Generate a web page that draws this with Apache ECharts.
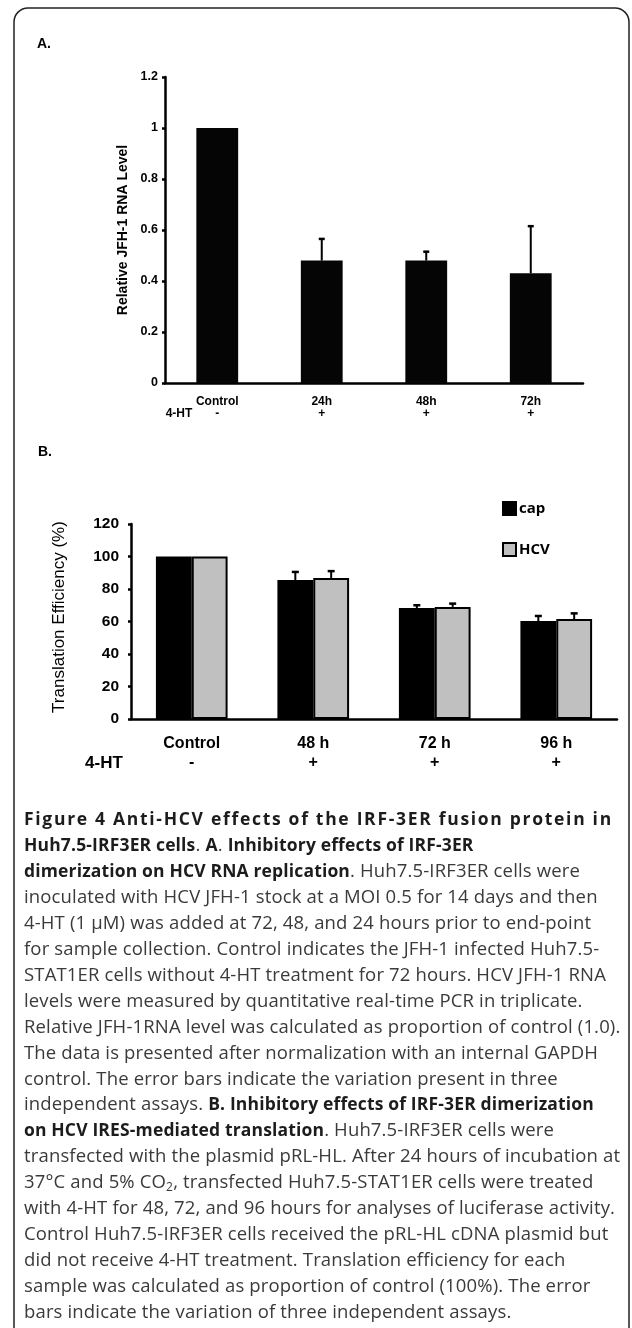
<!DOCTYPE html>
<html>
<head>
<meta charset="utf-8">
<script src="https://cdn.jsdelivr.net/npm/echarts@6.0.0/dist/echarts.min.js"></script>
<style>
html, body { margin: 0; padding: 0; background: #fff; }
#chart { position: absolute; left: 0; top: 0; width: 632px; height: 1328px; }
#caption { position: absolute; left: 0; top: 0; width: 632px; font-family: "Open Sans", sans-serif; font-size: 18.5px; letter-spacing: 0.15px; color: #3a3a3a; }
#caption div { position: absolute; left: 24px; white-space: nowrap; height: 26px; line-height: 26px; }
#caption b { color: #1c1c1c; font-weight: 700; font-size: 17.5px; }
#caption div.title b { letter-spacing: 1.7px; }
#caption sub { font-size: 12px; vertical-align: -3px; line-height: 0; }
</style>
</head>
<body>
<div id="chart"></div>
<div id="caption"></div>
<script>
// panel A - relative JFH-1 RNA level
const catsA = ['Control', '24h', '48h', '72h'];
const signsA = ['-', '+', '+', '+'];
const rnaLevel = [1.0, 0.48, 0.48, 0.43];
const rnaErr = [0, 0.085, 0.035, 0.185];

// panel B - translation efficiency (%)
const catsB = ['Control', '48 h', '72 h', '96 h'];
const signsB = ['-', '+', '+', '+'];
const capEff = [100, 85.5, 68.3, 60.3];
const capErr = [0, 5, 1.7, 3.1];
const hcvEff = [100, 86.8, 69, 61.5];
const hcvErr = [0, 4.2, 2, 3.5];

const captionLines = [
	'<b>Figure 4 Anti-HCV effects of the IRF-3ER fusion protein in</b>',
	'<b>Huh7.5-IRF3ER cells</b>. <b>A</b>. <b>Inhibitory effects of IRF-3ER</b>',
	'<b>dimerization on HCV RNA replication</b>. Huh7.5-IRF3ER cells were',
	'inoculated with HCV JFH-1 stock at a MOI 0.5 for 14 days and then',
	'4-HT (1 &mu;M) was added at 72, 48, and 24 hours prior to end-point',
	'for sample collection. Control indicates the JFH-1 infected Huh7.5-',
	'STAT1ER cells without 4-HT treatment for 72 hours. HCV JFH-1 RNA',
	'levels were measured by quantitative real-time PCR in triplicate.',
	'Relative JFH-1RNA level was calculated as proportion of control (1.0).',
	'The data is presented after normalization with an internal GAPDH',
	'control. The error bars indicate the variation present in three',
	'independent assays. <b>B. Inhibitory effects of IRF-3ER dimerization</b>',
	'<b>on HCV IRES-mediated translation</b>. Huh7.5-IRF3ER cells were',
	'transfected with the plasmid pRL-HL. After 24 hours of incubation at',
	'37&deg;C and 5% CO<sub>2</sub>, transfected Huh7.5-STAT1ER cells were treated',
	'with 4-HT for 48, 72, and 96 hours for analyses of luciferase activity.',
	'Control Huh7.5-IRF3ER cells received the pRL-HL cDNA plasmid but',
	'did not receive 4-HT treatment. Translation efficiency for each',
	'sample was calculated as proportion of control (100%). The error',
	'bars indicate the variation of three independent assays.'
];

const cap = document.getElementById('caption');
captionLines.forEach(function (line, i) {
	const d = document.createElement('div');
	d.style.top = (805 + i * 25.95) + 'px';
	if (i === 0) d.className = 'title';
	d.innerHTML = line;
	cap.appendChild(d);
});

const FONT = '"Liberation Sans", Arial, sans-serif';

// upper error bar drawn on the bar centre (offset = share of band width)
const errRender = function (offset, capHalf) {
	return function (params, api) {
		const v = api.value(1), e = api.value(2);
		if (!e) return;
		const base = api.coord([api.value(0), v]);
		const top = api.coord([api.value(0), v + e]);
		const cx = base[0] + offset * api.size([1, 0])[0];
		return {
			type: 'group',
			children: [{
				type: 'line',
				shape: { x1: cx, y1: base[1], x2: cx, y2: top[1] },
				style: { stroke: '#000', lineWidth: 2 }
			}, {
				type: 'line',
				shape: { x1: cx - capHalf, y1: top[1], x2: cx + capHalf, y2: top[1] },
				style: { stroke: '#000', lineWidth: 2.5 }
			}]
		};
	};
};

const axisLineStyle = { color: '#000', width: 2.5 };

const chart = echarts.init(document.getElementById('chart'), null, { renderer: 'canvas' });
chart.setOption({
	animation: false,
	backgroundColor: '#fff',
	textStyle: { fontFamily: FONT },
	grid: [
		{ left: 165, top: 77, width: 418, height: 306 },
		{ left: 131, top: 524, width: 486, height: 195 }
	],
	xAxis: [{
		gridIndex: 0,
		type: 'category',
		data: catsA,
		axisLine: { lineStyle: axisLineStyle },
		axisTick: { length: 4, lineStyle: axisLineStyle },
		axisLabel: {
			margin: 13,
			color: '#000',
			fontWeight: 'bold',
			fontSize: 12,
			lineHeight: 12,
			formatter: function (v, i) { return v + '\n' + signsA[i]; }
		}
	}, {
		gridIndex: 1,
		type: 'category',
		data: catsB,
		axisLine: { lineStyle: axisLineStyle },
		axisTick: { length: 4, lineStyle: axisLineStyle },
		axisLabel: {
			margin: 15,
			color: '#000',
			fontWeight: 'bold',
			fontSize: 16,
			lineHeight: 19,
			formatter: function (v, i) { return v + '\n' + signsB[i]; }
		}
	}],
	yAxis: [{
		gridIndex: 0,
		type: 'value',
		min: 0,
		max: 1.2,
		interval: 0.2,
		axisLine: { show: true, lineStyle: axisLineStyle },
		axisTick: { show: true, length: 3, lineStyle: axisLineStyle },
		splitLine: { show: false },
		axisLabel: { margin: 7, color: '#000', fontWeight: 'bold', fontSize: 12.5 }
	}, {
		gridIndex: 1,
		type: 'value',
		min: 0,
		max: 120,
		interval: 20,
		axisLine: { show: true, lineStyle: axisLineStyle },
		axisTick: { show: true, length: 3, lineStyle: axisLineStyle },
		splitLine: { show: false },
		axisLabel: { margin: 12, color: '#000', fontWeight: 'bold', fontSize: 15.5 }
	}],
	legend: {
		orient: 'vertical',
		left: 497,
		top: 496,
		itemWidth: 13,
		itemHeight: 13,
		itemGap: 26,
		icon: 'rect',
		data: ['cap', 'HCV'],
		textStyle: { fontFamily: '"Open Sans", sans-serif', fontWeight: 'bold', fontSize: 15, color: '#000', padding: [0, 0, 0, -2] }
	},
	series: [{
		name: 'rna',
		type: 'bar',
		xAxisIndex: 0,
		yAxisIndex: 0,
		barWidth: '40%',
		itemStyle: { color: '#050505' },
		data: rnaLevel
	}, {
		name: 'rnaErr',
		type: 'custom',
		xAxisIndex: 0,
		yAxisIndex: 0,
		z: 5,
		encode: { x: 0, y: 1 },
		renderItem: errRender(0, 3),
		data: catsA.map(function (c, i) { return [i, rnaLevel[i], rnaErr[i]]; })
	}, {
		name: 'cap',
		type: 'bar',
		xAxisIndex: 1,
		yAxisIndex: 1,
		barGap: '0%',
		barCategoryGap: '41%',
		itemStyle: { color: '#000', borderColor: '#000', borderWidth: 2 },
		data: capEff
	}, {
		name: 'HCV',
		type: 'bar',
		xAxisIndex: 1,
		yAxisIndex: 1,
		barGap: '0%',
		barCategoryGap: '41%',
		itemStyle: { color: '#c0c0c0', borderColor: '#000', borderWidth: 2 },
		data: hcvEff
	}, {
		name: 'capErr',
		type: 'custom',
		xAxisIndex: 1,
		yAxisIndex: 1,
		z: 5,
		encode: { x: 0, y: 1 },
		renderItem: errRender(-0.1475, 3.5),
		data: catsB.map(function (c, i) { return [i, capEff[i], capErr[i]]; })
	}, {
		name: 'hcvErr',
		type: 'custom',
		xAxisIndex: 1,
		yAxisIndex: 1,
		z: 5,
		encode: { x: 0, y: 1 },
		renderItem: errRender(0.1475, 3.5),
		data: catsB.map(function (c, i) { return [i, hcvEff[i], hcvErr[i]]; })
	}],
	graphic: [{
		type: 'rect',
		shape: { x: 14, y: 8, width: 615, height: 1400, r: [14, 14, 0, 0] },
		style: { fill: 'none', stroke: '#222', lineWidth: 1.5 }
	}, {
		type: 'text', x: 37, y: 44,
		style: { text: 'A.', font: 'bold 14px ' + FONT, fill: '#000', verticalAlign: 'middle' }
	}, {
		type: 'text', x: 38, y: 452,
		style: { text: 'B.', font: 'bold 14px ' + FONT, fill: '#000', verticalAlign: 'middle' }
	}, {
		type: 'text', x: 123, y: 230, rotation: Math.PI / 2,
		style: { text: 'Relative JFH-1 RNA Level', font: 'bold 14px ' + FONT, fill: '#000', align: 'center', verticalAlign: 'middle' }
	}, {
		type: 'text', x: 59, y: 617, rotation: Math.PI / 2,
		style: { text: 'Translation Efficiency (%)', font: '17px ' + FONT, fill: '#000', align: 'center', verticalAlign: 'middle' }
	}, {
		type: 'text', x: 179, y: 414,
		style: { text: '4-HT', font: 'bold 12px ' + FONT, fill: '#000', align: 'center', verticalAlign: 'middle' }
	}, {
		type: 'text', x: 104, y: 763,
		style: { text: '4-HT', font: 'bold 17px ' + FONT, fill: '#000', align: 'center', verticalAlign: 'middle' }
	}]
});
</script>
</body>
</html>
